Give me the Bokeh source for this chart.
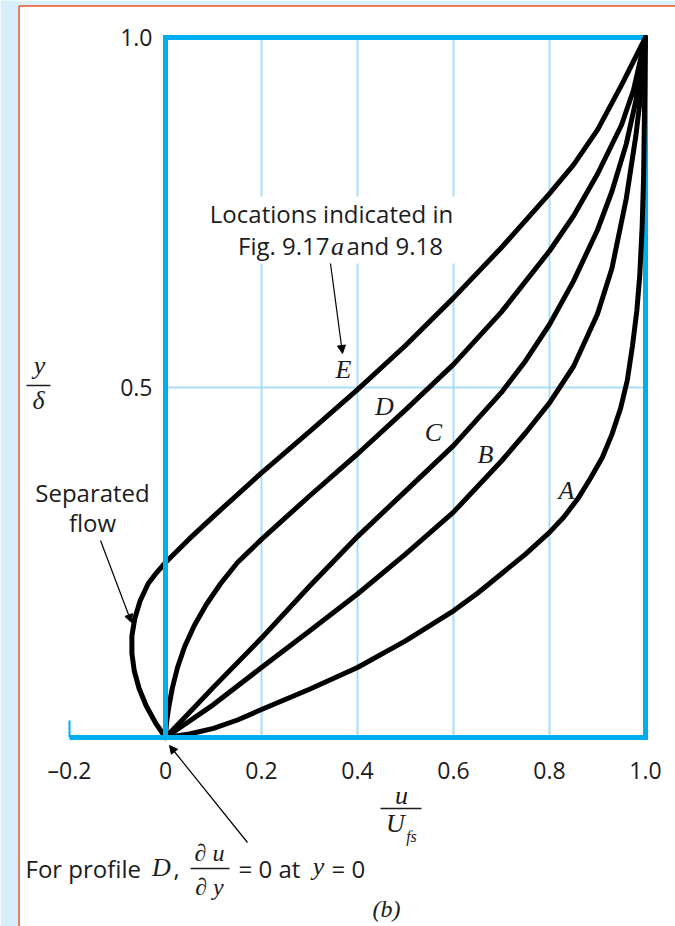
from bokeh.plotting import figure
from bokeh.models import LinearAxis, FixedTicker, Range1d, Arrow, NormalHead
from bokeh.core.properties import value
from bokeh.embed import file_html
from bokeh.resources import INLINE

# ---------------- data ----------------
A_x = [0, 0.05, 0.1, 0.15, 0.2, 0.3, 0.4, 0.5, 0.6, 0.65, 0.7, 0.75, 0.8, 0.83, 0.86, 0.885, 0.91, 0.93,
       0.948, 0.962, 0.973, 0.982, 0.988, 0.993, 0.996, 0.998, 1.0]
A_y = [0, 0.005, 0.013, 0.025, 0.04, 0.069, 0.1, 0.138, 0.181, 0.206, 0.234, 0.262, 0.293, 0.315, 0.342,
       0.37, 0.4, 0.433, 0.47, 0.51, 0.56, 0.61, 0.66, 0.73, 0.8, 0.9, 1.0]

B_x = [0, 0.1, 0.2, 0.3, 0.4, 0.5, 0.6, 0.7, 0.75, 0.8, 0.85, 0.9, 0.93, 0.96, 0.98, 0.993, 1.0]
B_y = [0, 0.047, 0.1, 0.152, 0.205, 0.262, 0.322, 0.395, 0.435, 0.478, 0.53, 0.605, 0.67, 0.77, 0.86, 0.935, 1.0]

C_x = [0, 0.045, 0.1, 0.2, 0.3, 0.4, 0.5, 0.6, 0.7, 0.75, 0.8, 0.85, 0.9, 0.93, 0.96, 0.98, 1.0]
C_y = [0, 0.032, 0.072, 0.142, 0.216, 0.287, 0.352, 0.417, 0.493, 0.538, 0.59, 0.652, 0.725, 0.78, 0.848, 0.91, 1.0]

D_x = [0, 0.002, 0.006, 0.014, 0.025, 0.04, 0.06, 0.085, 0.115, 0.15, 0.2, 0.25, 0.3, 0.4, 0.5, 0.6, 0.7,
       0.8, 0.85, 0.9, 0.95, 0.975, 1.0]
D_y = [0, 0.02, 0.04, 0.07, 0.1, 0.13, 0.16, 0.19, 0.22, 0.25, 0.283, 0.314, 0.345, 0.405, 0.468, 0.533,
       0.608, 0.695, 0.745, 0.805, 0.875, 0.925, 1.0]

E_x = [0, -0.02, -0.04, -0.055, -0.065, -0.07, -0.07, -0.064, -0.053, -0.036, -0.018, 0, 0.05, 0.1, 0.15,
       0.2, 0.3, 0.4, 0.5, 0.6, 0.7, 0.8, 0.85, 0.9, 0.95, 1.0]
E_y = [0, 0.02, 0.045, 0.07, 0.095, 0.12, 0.145, 0.17, 0.195, 0.22, 0.236, 0.25, 0.284, 0.316, 0.347,
       0.378, 0.437, 0.497, 0.56, 0.628, 0.7, 0.777, 0.818, 0.868, 0.932, 1.0]

profile_names = ["A", "B", "C", "D", "E"]

x_ticks = [-0.2, 0.0, 0.2, 0.4, 0.6, 0.8, 1.0]
x_tick_labels = ["\u20130.2", "0", "0.2", "0.4", "0.6", "0.8", "1.0"]
y_ticks = [0.5, 1.0]
y_tick_labels = ["0.5", "1.0"]
grid_x = [0.2, 0.4, 0.6, 0.8]
grid_y = [0.5]

# ---------------- layout helpers (page pixel -> data) ----------------
W, H = 675, 926
X0PX, X1PX = 165.0, 645.0      # page x of u=0 and u=1
Y0PX, Y1PX = 737.0, 37.0       # page y of y=0 and y=1
SX = (X1PX - X0PX)
SY = (Y0PX - Y1PX)


def X(px):
    return (px - X0PX) / SX


def Y(py):
    return (Y0PX - py) / SY


BLUE = "#00AEEF"
LIGHT = "#A9DDF6"
INK = "#1c1c1c"
SANS = value("Open Sans")
SERIF = value("Liberation Serif")

p = figure(width=W, height=H, output_backend="svg", toolbar_location=None,
           x_range=Range1d(X(0), X(W)), y_range=Range1d(Y(H), Y(0)),
           x_axis_location=None, y_axis_location=None, min_border=0,
           outline_line_color=None, background_fill_color="white",
           border_fill_color="white")
p.grid.visible = False

# page decoration: light strips and red rules
p.quad(left=[X(0), X(0)], right=[X(18), X(W)], bottom=[Y(H), Y(5)], top=[Y(0), Y(0)],
       fill_color="#D8EFFB", line_color=None)
p.segment(x0=[X(18.5), X(18.5)], y0=[Y(H), Y(5.5)], x1=[X(18.5), X(W)], y1=[Y(5.5), Y(5.5)],
          line_color="#E8502A", line_width=1.5)

# grid lines
p.segment(x0=grid_x, y0=[0] * len(grid_x), x1=grid_x, y1=[1] * len(grid_x),
          line_color=LIGHT, line_width=2)
p.segment(x0=[0] * len(grid_y), y0=grid_y, x1=[1] * len(grid_y), y1=grid_y,
          line_color=LIGHT, line_width=2)

# white box behind the annotation text
p.quad(left=[X(198)], right=[X(464)], bottom=[Y(263)], top=[Y(196)],
       fill_color="white", line_color=None)

# frame: top and right edges
p.segment(x0=[0, 1], y0=[1, 0], x1=[1, 1], y1=[1, 1], line_color=BLUE, line_width=5,
          line_cap="square")
# small tick at the left end of the u axis
p.segment(x0=[x_ticks[0]], y0=[0], x1=[x_ticks[0]], y1=[Y(720)], line_color=BLUE, line_width=2)

# axes
xaxis = LinearAxis(fixed_location=0, ticker=FixedTicker(ticks=x_ticks),
                   bounds=(x_ticks[0], 1.0))
xaxis.major_label_overrides = {t: l for t, l in zip(x_ticks, x_tick_labels)}
yaxis = LinearAxis(fixed_location=0, ticker=FixedTicker(ticks=y_ticks), bounds=(0, 1.0))
yaxis.major_label_overrides = {t: l for t, l in zip(y_ticks, y_tick_labels)}
for ax in (xaxis, yaxis):
    ax.axis_line_color = BLUE
    ax.axis_line_width = 5
    ax.major_tick_in = 0
    ax.major_tick_out = 0
    ax.minor_tick_in = 0
    ax.minor_tick_out = 0
    ax.major_label_text_font = "Open Sans"
    ax.major_label_text_font_size = "23px"
    ax.major_label_text_color = INK
xaxis.major_label_standoff = 16
yaxis.major_label_standoff = 13
p.add_layout(xaxis, "below")
p.add_layout(yaxis, "left")

# profiles
for xs, ys in [(A_x, A_y), (B_x, B_y), (C_x, C_y), (D_x, D_y), (E_x, E_y)]:
    p.line(xs, ys, line_color="black", line_width=5, line_join="round", line_cap="round")

# profile letters
letter_px = {"A": (566, 490), "B": (485, 454), "C": (433, 432), "D": (384, 406), "E": (343, 369)}
p.text(x=[X(letter_px[n][0]) for n in profile_names], y=[Y(letter_px[n][1]) for n in profile_names],
       text=profile_names, text_font=SERIF, text_font_style="italic", text_font_size="26px",
       text_align="center", text_baseline="middle", text_color=INK)


def txt(s, px, py, align="center", font=SANS, size="24px", style="normal"):
    p.text(x=[X(px)], y=[Y(py)], text=[s], text_font=font, text_font_size=size,
           text_font_style=style, text_align=align, text_baseline="middle", text_color=INK)


# annotation: locations
txt("Locations indicated in", 331, 213)
txt("Fig. 9.17", 329, 245, align="right")
txt("a", 337, 246, font=SERIF, style="italic", size="26px")
txt("and 9.18", 346, 245, align="left")

# separated flow
txt("Separated", 92, 492)
txt("flow", 92, 522)

# y/δ label
txt("y", 39, 365, font=SERIF, style="italic", size="26px")
p.segment(x0=[X(26)], y0=[Y(385)], x1=[X(50)], y1=[Y(385)], line_color=INK, line_width=1.5)
txt("\u03b4", 38, 400, font=SERIF, style="italic", size="26px")

# u/U_fs label
txt("u", 401, 795, font=SERIF, style="italic", size="26px")
p.segment(x0=[X(380)], y0=[Y(808)], x1=[X(421)], y1=[Y(808)], line_color=INK, line_width=1.5)
txt("U", 395, 823, font=SERIF, style="italic", size="26px")
txt("fs", 411, 836, font=SERIF, style="italic", size="16px")

# bottom note
txt("For profile", 25, 868, align="left")
txt("D", 161, 867, font=SERIF, style="italic", size="26px")
txt(",", 176, 868, align="center")
txt("\u2202 u", 209, 852, font=SERIF, style="italic", size="24px")
p.segment(x0=[X(190)], y0=[Y(868)], x1=[X(229)], y1=[Y(868)], line_color=INK, line_width=1.5)
txt("\u2202 y", 209, 886, font=SERIF, style="italic", size="24px")
txt("= 0 at", 238, 868, align="left")
txt("y", 318, 866, font=SERIF, style="italic", size="26px")
txt("= 0", 331, 868, align="left")
txt("(b)", 386, 908, font=SERIF, style="italic", size="24px")

# arrows
for (sx, sy, ex, ey) in [(330, 263, 342, 353), (100, 540, 131, 622), (247, 842, 169, 745)]:
    p.add_layout(Arrow(end=NormalHead(size=8, fill_color="black", line_color="black"),
                       x_start=X(sx), y_start=Y(sy), x_end=X(ex), y_end=Y(ey),
                       line_color="black", line_width=1.2))

open("out.html", "w").write(file_html(p, INLINE))
